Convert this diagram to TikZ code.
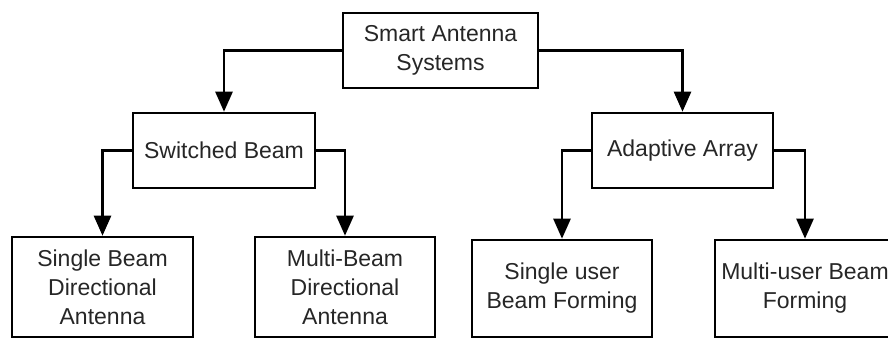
\documentclass[tikz,border=0pt]{standalone}
\usepackage{fontspec}
\setmainfont{Liberation Sans}
\usetikzlibrary{arrows.meta}
\begin{document}
\begin{tikzpicture}[x=1pt,y=1pt,
  box/.style={draw, line width=2.6pt, align=center, inner sep=0pt,
    font=\fontsize{23}{29}\selectfont, text=black!85},
  conn/.style={line width=2.6pt, -{Triangle[length=20pt,width=17pt]}}]
\useasboundingbox (0,0) rectangle (888,-338);
\begin{scope}
\clip (0,0) rectangle (888,-338);
\node[box, minimum width=195pt, minimum height=75pt] (top) at (440.5,-50.5) {Smart Antenna\\Systems};
\node[box, minimum width=182pt, minimum height=75pt] (sw) at (224,-150.5) {Switched Beam};
\node[box, minimum width=181pt, minimum height=75pt] (aa) at (682.5,-150.5) {Adaptive Array};
\node[box, minimum width=181pt, minimum height=100pt] (b1) at (102.5,-287) {Single Beam\\Directional\\Antenna};
\node[box, minimum width=180pt, minimum height=100pt] (b2) at (345,-287) {Multi-Beam\\Directional\\Antenna};
\node[box, minimum width=180pt, minimum height=97pt] (b3) at (562,-288.5) {Single user\\Beam Forming};
\node[box, minimum width=180pt, minimum height=97pt] (b4) at (805,-288.5) {Multi-user Beam\\Forming};
\draw[conn] (top.west) -| (sw.north);
\draw[conn] (top.east) -| (aa.north);
\draw[conn] (sw.west) -| (b1.north);
\draw[conn] (sw.east) -| (b2.north);
\draw[conn] (aa.west) -| (b3.north);
\draw[conn] (aa.east) -| (b4.north);
\end{scope}
\end{tikzpicture}
\end{document}
